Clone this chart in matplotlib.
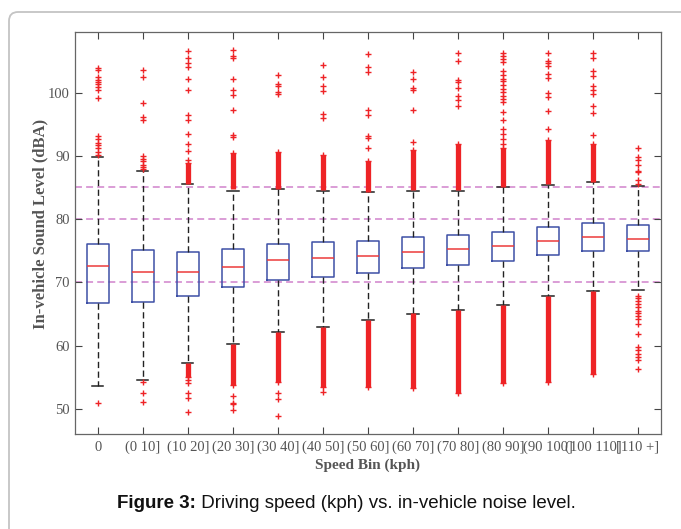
#Driving speed vs in-vehicle noise level - box plot
import numpy as np
import matplotlib
matplotlib.use('Agg')
import matplotlib.pyplot as plt
from matplotlib.patches import FancyBboxPatch

#Speed bins and box statistics (dBA)
bins = ['0', '(0 10]', '(10 20]', '(20 30]', '(30 40]', '(40 50]', '(50 60]',
        '(60 70]', '(70 80]', '(80 90]', '(90 100]', '(100 110]', '[110 +]']
q1 = [66.8, 66.9, 67.8, 69.3, 70.4, 70.9, 71.5, 72.2, 72.8, 73.4, 74.4, 75.0, 74.9]
med = [72.6, 71.7, 71.7, 72.5, 73.5, 73.8, 74.1, 74.8, 75.2, 75.7, 76.6, 77.1, 76.8]
q3 = [76.0, 75.1, 74.8, 75.3, 76.1, 76.4, 76.6, 77.1, 77.5, 78.0, 78.7, 79.4, 79.0]
whislo = [53.6, 54.6, 57.3, 60.2, 62.1, 62.9, 64.05, 65.05, 65.7, 66.4, 67.9, 68.6, 68.8]
whishi = [89.8, 87.6, 85.5, 84.5, 84.7, 84.5, 84.3, 84.5, 84.5, 85.1, 85.4, 85.8, 85.2]

#Sparse outliers above and below the whiskers
fliers_hi = [
    [103.8, 103.5, 102.5, 101.9, 101.7, 101.3, 100.9, 100.4, 99.2, 93.2, 92.7, 92.1, 91.7, 91.2, 90.6, 90.1],
    [103.6, 102.4, 98.4, 96.2, 95.6, 90.0, 89.5, 89.1, 88.6, 88.3, 87.9],
    [106.6, 105.4, 104.7, 104.1, 102.2, 100.4, 96.4, 95.6, 93.5, 91.9, 90.8, 89.3],
    [106.7, 105.7, 105.5, 102.2, 100.4, 99.6, 97.2, 93.3, 92.9],
    [102.8, 101.4, 101.1, 100.1, 99.7],
    [104.4, 102.5, 101.0, 100.2, 96.6, 95.9],
    [106.1, 104.1, 103.3, 97.2, 96.5, 93.2, 92.8, 91.2],
    [103.3, 102.1, 100.7, 100.4, 97.2, 92.2],
    [106.2, 104.9, 101.9, 101.7, 100.7, 99.4, 98.8, 97.9],
    [106.2, 105.7, 105.3, 104.8, 103.4, 102.7, 102.2, 101.8, 101.2, 100.6, 100.1,
     99.5, 98.9, 98.5, 96.9, 95.6, 94.3, 93.4, 92.7, 91.9],
    [106.2, 104.9, 104.6, 104.2, 103.0, 102.3, 99.9, 99.3, 97.1, 94.2],
    [106.2, 105.5, 103.4, 102.6, 101.1, 100.4, 99.8, 97.8, 96.8, 93.3],
    [91.3, 89.8, 89.3, 88.6, 87.6, 87.4, 86.2, 85.6],
]
fliers_lo = [
    [50.9],
    [54.2, 52.6, 51.1],
    [54.6, 54.1, 52.6, 51.7, 49.5],
    [52.0, 50.9, 50.8, 49.8],
    [52.6, 51.6, 48.9],
    [52.7],
    [], [], [], [], [], [],
    [67.8, 67.5, 67.1, 66.6, 66.05, 65.5, 65.2, 64.7, 64.2, 63.5, 61.8, 59.8,
     59.3, 58.7, 58.2, 57.7, 56.3],
]

#Ranges where outliers are so dense they merge into a solid band
upband_bot = [np.nan, np.nan, 85.6, 84.7, 84.8, 84.6, 84.3, 84.6, 84.6, 85.1, 85.5, 85.9, np.nan]
upband_top = [np.nan, np.nan, 88.8, 90.4, 90.6, 90.1, 89.2, 90.9, 91.8, 91.2, 92.5, 91.9, np.nan]
loband_bot = [np.nan, np.nan, 55.1, 53.8, 54.3, 53.5, 53.5, 53.3, 52.5, 54.1, 54.3, 55.5, np.nan]
loband_top = [np.nan, np.nan, 57.2, 60.2, 62.1, 62.9, 64.1, 65.1, 65.7, 66.4, 67.9, 68.6, np.nan]

limits = [70, 80, 85]

plt.rcParams['lines.scale_dashes'] = False
serif = 'Liberation Serif'
red = '#ee2326'

fig = plt.figure(figsize=(6.81, 5.29), dpi=100)
fig.patch.set_facecolor('white')
frame = FancyBboxPatch((9, -40), 720, 557, boxstyle='round,pad=0,rounding_size=9',
                       transform=None, facecolor='white', edgecolor='#c4c4c4', lw=1.3,
                       zorder=-5)
fig.add_artist(frame)

ax = fig.add_axes([0.1106, 0.1796, 0.8594, 0.7604])

pos = np.arange(1, len(bins) + 1)
stats = []
for i in range(len(bins)):
    stats.append(dict(med=med[i], q1=q1[i], q3=q3[i], whislo=whislo[i],
                      whishi=whishi[i], fliers=fliers_hi[i] + fliers_lo[i]))

for v in limits:
    ax.axhline(v, color='#d48cd0', lw=1.2, ls=(0, (5, 3)), zorder=1)

ax.vlines(pos, upband_bot, upband_top, color=red, lw=3.8, zorder=3)
ax.vlines(pos, loband_bot, loband_top, color=red, lw=3.8, zorder=3)
ax.plot(pos, upband_top, '+', color=red, ms=4.5, mew=1, zorder=3)
ax.plot(pos, loband_bot, '+', color=red, ms=4.5, mew=1, zorder=3)

ax.bxp(stats, positions=pos, widths=0.5, capwidths=0.25, manage_ticks=False,
       boxprops=dict(color='#3d4fa6', lw=1.1),
       medianprops=dict(color='#ec3a3a', lw=1.1),
       whiskerprops=dict(color='#222222', lw=1.0, ls=(0, (4.5, 2.5))),
       capprops=dict(color='#222222', lw=1.1),
       flierprops=dict(marker='+', markeredgecolor=red, markersize=4.5, mew=1,
                       linestyle='none'),
       zorder=2)

ax.set_xlim(0.5, 13.5)
ax.set_ylim(46.05, 109.6)
ax.set_xticks(pos)
ax.set_xticklabels(bins, fontfamily=serif, fontsize=10.5, color='#555555')
ax.set_yticks([50, 60, 70, 80, 90, 100])
ax.set_yticklabels(['50', '60', '70', '80', '90', '100'], fontfamily=serif,
                   fontsize=10.5, color='#555555')
ax.tick_params(direction='in', length=5, width=0.8, color='#444444',
               top=True, right=True)
ax.tick_params(axis='x', pad=5)
ax.tick_params(axis='y', pad=4)
for s in ax.spines.values():
    s.set_color('#666666')
    s.set_linewidth(0.9)

ax.set_xlabel('Speed Bin (kph)', fontfamily=serif, fontsize=11, fontweight='bold',
              color='#555555', labelpad=3)
ax.set_ylabel('In-vehicle Sound Level (dBA)', fontfamily=serif, fontsize=12,
              fontweight='bold', color='#555555')
ax.yaxis.set_label_coords(-0.046, 0.522)

#Caption under the chart
cap = fig.text(117 / 681, 1 - 508 / 529, 'Figure 3:', fontfamily='Liberation Sans',
               fontsize=13.5, fontweight='bold', color='#111111', ha='left',
               va='baseline')
ax.annotate(' Driving speed (kph) vs. in-vehicle noise level.', xy=(1, 0),
            xycoords=cap, fontfamily='Liberation Sans', fontsize=13.5,
            color='#111111', ha='left', va='bottom', annotation_clip=False)

plt.savefig('out.png', dpi=100)
